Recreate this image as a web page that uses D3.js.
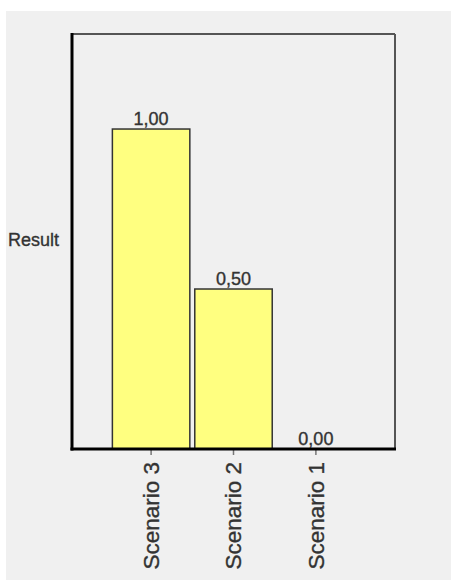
<!DOCTYPE html>
<html><head><meta charset="utf-8">
<script src="https://cdn.jsdelivr.net/npm/d3@7"></script>
<style>html,body{margin:0;padding:0;background:#fff;}svg{display:block;}</style>
</head><body>
<script>
const categories = ["Scenario 3", "Scenario 2", "Scenario 1"];
const values = [1.00, 0.50, 0.00];
const valueLabels = ["1,00", "0,50", "0,00"];
const yTitle = "Result";

(function () {
const W = 451, H = 580;
const svg = d3.select("body").append("svg").attr("width", W).attr("height", H);
svg.append("rect").attr("x", 6).attr("y", 11).attr("width", W - 6).attr("height", H - 11).attr("fill", "#f0f0f0");

const pL = 72, pR = 395, pT = 34, pB = 449;
const x = d3.scaleBand().domain(categories).range([pL, pR]).paddingInner(0.06).paddingOuter(0.49);
const y = d3.scaleLinear().domain([0, 1.297]).range([pB, pT]);
const font = "Liberation Sans, Arial, sans-serif";

// frame top/right
svg.append("line").attr("x1", pL).attr("x2", pR).attr("y1", pT).attr("y2", pT).attr("stroke", "#555").attr("stroke-width", 2);
svg.append("line").attr("x1", pR).attr("x2", pR).attr("y1", pT).attr("y2", pB).attr("stroke", "#555").attr("stroke-width", 2);

// bars
svg.selectAll("rect.bar").data(values).enter().append("rect").attr("class", "bar")
  .attr("x", (d, i) => x(categories[i]))
  .attr("width", x.bandwidth())
  .attr("y", d => y(d))
  .attr("height", d => y(0) - y(d))
  .attr("fill", "#ffff80").attr("stroke", "#333").attr("stroke-width", 1.5);

// value labels
svg.selectAll("text.val").data(values).enter().append("text").attr("class", "val")
  .attr("x", (d, i) => x(categories[i]) + x.bandwidth() / 2)
  .attr("y", d => y(d) - 4)
  .attr("text-anchor", "middle")
  .attr("font-family", font).attr("font-size", 18)
  .attr("fill", "#333").attr("stroke", "#333").attr("stroke-width", 0.35)
  .text((d, i) => valueLabels[i]);

// x axis
const xAxis = svg.append("g").attr("transform", `translate(0,${pB})`)
  .call(d3.axisBottom(x).tickSize(6).tickPadding(8));
xAxis.select(".domain").remove();
xAxis.selectAll(".tick line").attr("stroke", "#777").attr("stroke-width", 1.5);
xAxis.selectAll(".tick text")
  .attr("font-family", font).attr("font-size", 22.5).attr("fill", "#333")
  .attr("stroke", "#333").attr("stroke-width", 0.35)
  .attr("transform", "rotate(-90)").attr("text-anchor", "end")
  .attr("x", -13).attr("y", 0).attr("dy", "0.35em");

// left & bottom axis lines
svg.append("line").attr("x1", pL).attr("x2", pL).attr("y1", pT - 1).attr("y2", pB + 1.5).attr("stroke", "#000").attr("stroke-width", 3);
svg.append("line").attr("x1", pL - 1.5).attr("x2", pR + 1).attr("y1", pB).attr("y2", pB).attr("stroke", "#000").attr("stroke-width", 3);

// y title
svg.append("text").attr("x", 8).attr("y", 246)
  .attr("font-family", font).attr("font-size", 18).attr("fill", "#333")
  .attr("stroke", "#333").attr("stroke-width", 0.35)
  .text(yTitle);
})();
</script>
</body></html>
